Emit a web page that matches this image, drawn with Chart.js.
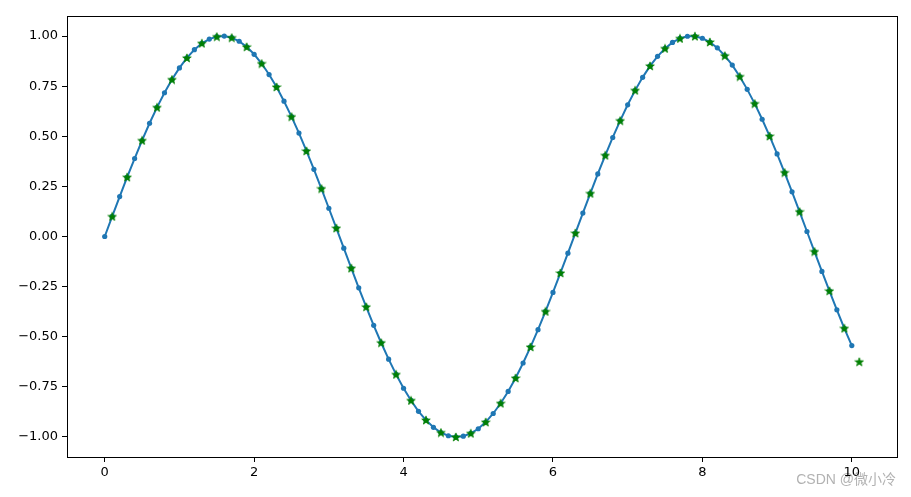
<!DOCTYPE html>
<html>
<head>
<meta charset="utf-8">
<script src="https://cdn.jsdelivr.net/npm/chart.js@4/dist/chart.umd.min.js"></script>
<style>
  html, body { margin: 0; padding: 0; background: #fff; }
  canvas { display: block; }
</style>
</head>
<body>
<canvas id="sinChart" width="911" height="497"></canvas>
<script>
// curva con puntos (x de 0 a 10)
const lineX = [0.0, 0.1, 0.2, 0.3, 0.4, 0.5, 0.6, 0.7, 0.8, 0.9,
  1.0, 1.1, 1.2, 1.3, 1.4, 1.5, 1.6, 1.7, 1.8, 1.9,
  2.0, 2.1, 2.2, 2.3, 2.4, 2.5, 2.6, 2.7, 2.8, 2.9,
  3.0, 3.1, 3.2, 3.3, 3.4, 3.5, 3.6, 3.7, 3.8, 3.9,
  4.0, 4.1, 4.2, 4.3, 4.4, 4.5, 4.6, 4.7, 4.8, 4.9,
  5.0, 5.1, 5.2, 5.3, 5.4, 5.5, 5.6, 5.7, 5.8, 5.9,
  6.0, 6.1, 6.2, 6.3, 6.4, 6.5, 6.6, 6.7, 6.8, 6.9,
  7.0, 7.1, 7.2, 7.3, 7.4, 7.5, 7.6, 7.7, 7.8, 7.9,
  8.0, 8.1, 8.2, 8.3, 8.4, 8.5, 8.6, 8.7, 8.8, 8.9,
  9.0, 9.1, 9.2, 9.3, 9.4, 9.5, 9.6, 9.7, 9.8, 9.9, 10.0];
const lineY = [0.000, 0.100, 0.199, 0.296, 0.389, 0.479, 0.565, 0.644, 0.717, 0.783,
  0.841, 0.891, 0.932, 0.964, 0.985, 0.997, 1.000, 0.992, 0.974, 0.946,
  0.909, 0.863, 0.808, 0.746, 0.675, 0.598, 0.516, 0.427, 0.335, 0.239,
  0.141, 0.042, -0.058, -0.158, -0.256, -0.351, -0.443, -0.530, -0.612, -0.688,
  -0.757, -0.818, -0.872, -0.916, -0.952, -0.978, -0.994, -1.000, -0.996, -0.982,
  -0.959, -0.926, -0.883, -0.832, -0.773, -0.706, -0.631, -0.551, -0.465, -0.374,
  -0.279, -0.182, -0.083, 0.017, 0.117, 0.215, 0.312, 0.405, 0.494, 0.578,
  0.657, 0.729, 0.794, 0.851, 0.899, 0.938, 0.968, 0.988, 0.999, 0.999,
  0.989, 0.970, 0.941, 0.902, 0.855, 0.798, 0.734, 0.663, 0.585, 0.501,
  0.412, 0.319, 0.223, 0.124, 0.025, -0.075, -0.174, -0.271, -0.366, -0.458, -0.544];

// estrellas verdes (x de 0.1 a 10.1)
const starX = [0.1, 0.3, 0.5, 0.7, 0.9, 1.1, 1.3, 1.5, 1.7, 1.9,
  2.1, 2.3, 2.5, 2.7, 2.9, 3.1, 3.3, 3.5, 3.7, 3.9,
  4.1, 4.3, 4.5, 4.7, 4.9, 5.1, 5.3, 5.5, 5.7, 5.9,
  6.1, 6.3, 6.5, 6.7, 6.9, 7.1, 7.3, 7.5, 7.7, 7.9,
  8.1, 8.3, 8.5, 8.7, 8.9, 9.1, 9.3, 9.5, 9.7, 9.9, 10.1];
const starY = [0.100, 0.296, 0.479, 0.644, 0.783, 0.891, 0.964, 0.997, 0.992, 0.946,
  0.863, 0.746, 0.598, 0.427, 0.239, 0.042, -0.158, -0.351, -0.530, -0.688,
  -0.818, -0.916, -0.978, -1.000, -0.982, -0.926, -0.832, -0.706, -0.551, -0.374,
  -0.182, 0.017, 0.215, 0.405, 0.578, 0.729, 0.851, 0.938, 0.988, 0.999,
  0.970, 0.902, 0.798, 0.663, 0.501, 0.319, 0.124, -0.075, -0.271, -0.458, -0.625];

const xTicks = [0, 2, 4, 6, 8, 10];
const yTicks = [-1.00, -0.75, -0.50, -0.25, 0.00, 0.25, 0.50, 0.75, 1.00];

// marcador de estrella rellena
function makeStar(size, color) {
  const c = document.createElement('canvas');
  c.width = size; c.height = size;
  const g = c.getContext('2d');
  const cx = size / 2, cy = size / 2 + 0.4, R = size / 2 - 0.5, r = R * 0.4;
  g.beginPath();
  for (let i = 0; i < 10; i++) {
    const rad = i % 2 === 0 ? R : r;
    const a = -Math.PI / 2 + i * Math.PI / 5;
    const px = cx + rad * Math.cos(a), py = cy + rad * Math.sin(a);
    if (i === 0) g.moveTo(px, py); else g.lineTo(px, py);
  }
  g.closePath();
  g.fillStyle = color;
  g.fill();
  g.strokeStyle = color;
  g.lineWidth = 0.8;
  g.stroke();
  return c;
}
const starImg = makeStar(10, '#008000');

const framePlugin = {
  id: 'frame',
  beforeDraw(chart) {
    // marca de agua
    const ctx = chart.ctx;
    ctx.save();
    ctx.font = '14px "Liberation Sans", "Noto Sans CJK SC", sans-serif';
    ctx.fillStyle = 'rgba(170,170,170,0.9)';
    ctx.textAlign = 'right';
    ctx.textBaseline = 'alphabetic';
    ctx.fillText('CSDN @微小冷', 896, 484);
    ctx.restore();
  },
  afterDraw(chart) {
    const { ctx, chartArea: a } = chart;
    ctx.save();
    ctx.strokeStyle = '#000';
    ctx.lineWidth = 1;
    ctx.strokeRect(Math.round(a.left) + 0.5, Math.round(a.top) + 0.5,
      Math.round(a.right - a.left), Math.round(a.bottom - a.top));
    ctx.restore();
  }
};

const tickFont = { family: '"DejaVu Sans", sans-serif', size: 13 };

const ctx = document.getElementById('sinChart').getContext('2d');
const sinChart = new Chart(ctx, {
  type: 'scatter',
  data: {
    datasets: [{
      label: 'stars',
      data: starX.map((x, i) => ({ x: x, y: starY[i] })),
      showLine: false,
      pointStyle: starImg,
      pointRadius: 5
    }, {
      label: 'sin',
      data: lineX.map((x, i) => ({ x: x, y: lineY[i] })),
      showLine: true,
      borderColor: '#1f77b4',
      backgroundColor: '#1f77b4',
      borderWidth: 2,
      pointRadius: 2.6,
      pointBorderWidth: 0,
      tension: 0
    }]
  },
  options: {
    responsive: false,
    animation: false,
    layout: { padding: { left: 0, right: 14, top: 16, bottom: 0 } },
    plugins: { legend: { display: false }, tooltip: { enabled: false } },
    scales: {
      x: {
        type: 'linear',
        min: -0.505,
        max: 10.605,
        afterBuildTicks: s => { s.ticks = xTicks.map(v => ({ value: v })); },
        afterFit: s => { s.height = 40; },
        grid: { drawOnChartArea: false, color: '#000', tickLength: 5, tickWidth: 1 },
        border: { color: '#000' },
        ticks: { color: '#000', font: tickFont, padding: 3, maxRotation: 0,
          callback: v => String(v) }
      },
      y: {
        type: 'linear',
        min: -1.1,
        max: 1.1,
        afterBuildTicks: s => { s.ticks = yTicks.map(v => ({ value: v })); },
        afterFit: s => { s.width = 67; },
        grid: { drawOnChartArea: false, color: '#000', tickLength: 5, tickWidth: 1 },
        border: { color: '#000' },
        ticks: { color: '#000', font: tickFont, padding: 4,
          callback: v => v.toFixed(2).replace('-', '\u2212') }
      }
    }
  },
  plugins: [framePlugin]
});
</script>
</body>
</html>
